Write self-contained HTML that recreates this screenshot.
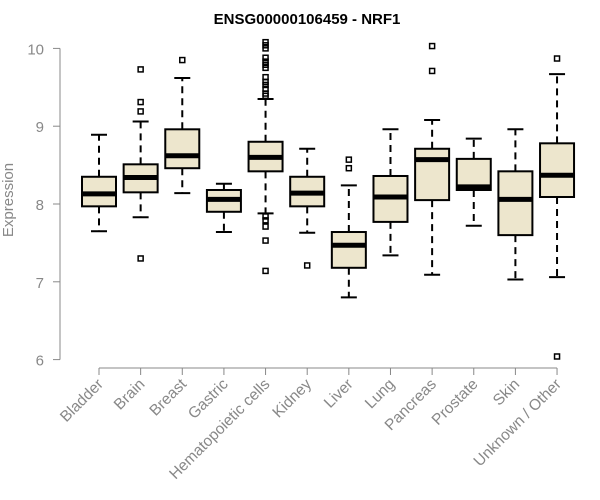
<!DOCTYPE html>
<html><head><meta charset="utf-8"><style>
body{margin:0;background:#fff;}
svg{display:block;font-family:"Liberation Sans",Arial,sans-serif;}
</style></head><body>
<svg id="chart" width="600" height="500">
<text x="307" y="24" text-anchor="middle" font-weight="bold" font-size="15" fill="#000">ENSG00000106459 - NRF1</text>
<text transform="translate(13,200) rotate(-90)" text-anchor="middle" font-size="15" fill="#888">Expression</text>
<g id="yaxis"></g>
<g id="xaxis"></g>
<g id="boxes"></g>
</svg>
<script>
const categories=["Bladder","Brain","Breast","Gastric","Hematopoietic cells","Kidney","Liver","Lung","Pancreas","Prostate","Skin","Unknown / Other"];
const whiskerLow=[7.65,7.83,8.14,7.64,7.88,7.63,6.80,7.34,7.09,7.72,7.03,7.06];
const q1=[7.97,8.15,8.46,7.90,8.42,7.97,7.18,7.77,8.05,8.18,7.60,8.09];
const median=[8.13,8.34,8.62,8.06,8.60,8.14,7.47,8.09,8.57,8.22,8.06,8.37];
const q3=[8.35,8.51,8.96,8.18,8.80,8.35,7.64,8.36,8.71,8.58,8.42,8.78];
const whiskerHigh=[8.89,9.06,9.62,8.26,9.35,8.71,8.24,8.96,9.08,8.84,8.96,9.67];
const outliers=[[],[9.73,9.31,9.19,7.30],[9.85],[],
[10.08,10.04,10.0,9.88,9.83,9.79,9.75,9.63,9.57,9.53,9.48,9.42,9.39,7.84,7.79,7.71,7.53,7.14],
[7.21],[8.57,8.46],[],[10.03,9.71],[],[],[9.87,6.04]];
const yTicks=[6,7,8,9,10];
const NS="http://www.w3.org/2000/svg";
function yScale(v){return 204-(v-8)*77.8;}
function xScale(i){return 99+i*41.64;}
function mk(tag,attrs,parent){const e=document.createElementNS(NS,tag);for(const k in attrs)e.setAttribute(k,attrs[k]);parent.appendChild(e);return e;}
const ya=document.getElementById('yaxis'),xa=document.getElementById('xaxis'),bx=document.getElementById('boxes');
let l=mk('line',{x1:60,x2:60,y1:yScale(10),y2:yScale(6),stroke:'#888'},ya);


yTicks.forEach(t=>{
 const tk=mk('line',{x1:53,x2:60,y1:yScale(t),y2:yScale(t),stroke:'#888'},ya);
 
 
 const tx=mk('text',{x:44,y:yScale(t)+6,'text-anchor':'end','font-size':15,fill:'#888'},ya);
 tx.textContent=t;
 
 
});
l=mk('line',{x1:xScale(0),x2:xScale(categories.length-1),y1:368,y2:368,stroke:'#888'},xa);


categories.forEach((c,i)=>{
 const x=xScale(i);
 const tk=mk('line',{x1:x,x2:x,y1:368,y2:375,stroke:'#888'},xa);
 
 
 const tx=mk('text',{transform:`translate(${x+5},${385}) rotate(-45)`,'text-anchor':'end','font-size':15.5,fill:'#888'},xa);
 tx.textContent=c;
 
 
 const g=mk('g',{},bx);
 
 
 const hw=17,cw=8;
 mk('line',{x1:x,x2:x,y1:yScale(q3[i]),y2:yScale(whiskerHigh[i]),stroke:'#000','stroke-width':2,'stroke-dasharray':'7,5'},g);
 mk('line',{x1:x,x2:x,y1:yScale(q1[i]),y2:yScale(whiskerLow[i]),stroke:'#000','stroke-width':2,'stroke-dasharray':'7,5'},g);
 mk('line',{x1:x-cw,x2:x+cw,y1:yScale(whiskerHigh[i]),y2:yScale(whiskerHigh[i]),stroke:'#000','stroke-width':2},g);
 mk('line',{x1:x-cw,x2:x+cw,y1:yScale(whiskerLow[i]),y2:yScale(whiskerLow[i]),stroke:'#000','stroke-width':2},g);
 mk('rect',{x:x-hw,y:yScale(q3[i]),width:hw*2,height:yScale(q1[i])-yScale(q3[i]),fill:'#ede6cd',stroke:'#000','stroke-width':2},g);
 mk('line',{x1:x-hw,x2:x+hw,y1:yScale(median[i]),y2:yScale(median[i]),stroke:'#000','stroke-width':5},g);
 outliers[i].forEach(o=>{
  const p=mk('rect',{x:x-2.5,y:yScale(o)-2.5,width:5,height:5,fill:'none',stroke:'#000','stroke-width':1.5},g);
  
  
 });
});
</script>
</body></html>
